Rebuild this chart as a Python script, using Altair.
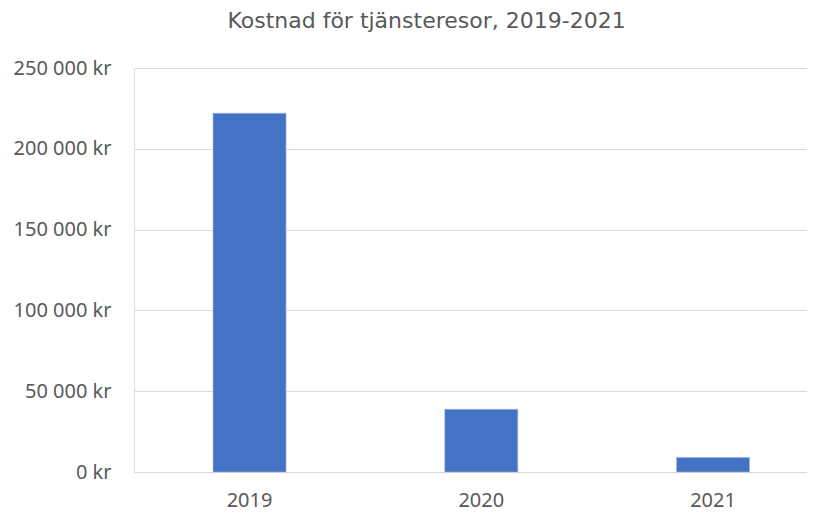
import altair as alt
import pandas as pd

years = ["2019", "2020", "2021"]
costs = [222000, 38800, 9000]

df = pd.DataFrame({"year": years, "cost": costs})

FONT = "Noto Sans"
GREY = "#595959"

chart = (
    alt.Chart(df)
    .mark_bar(color="#4472C4", stroke="#9DB3E0", strokeWidth=0.6)
    .encode(
        x=alt.X(
            "year:N",
            sort=years,
            title=None,
            scale=alt.Scale(paddingInner=0.685, paddingOuter=0.2945, align=0.579),
            axis=alt.Axis(
                labelAngle=0,
                labelFont=FONT,
                labelFontSize=20,
                labelColor=GREY,
                labelPadding=18,
                ticks=False,
                domain=False,
                grid=False,
            ),
        ),
        y=alt.Y(
            "cost:Q",
            title=None,
            scale=alt.Scale(domain=[0, 250000], nice=False),
            axis=alt.Axis(
                values=[0, 50000, 100000, 150000, 200000, 250000],
                labelExpr="replace(format(datum.value, ','), ',', ' ') + ' kr'",
                labelFont=FONT,
                labelFontSize=20,
                labelColor=GREY,
                labelPadding=23,
                ticks=False,
                domain=False,
                grid=True,
                gridColor="#D9D9D9",
                gridWidth=1,
            ),
        ),
    )
    .properties(
        width=673,
        height=404,
        title=alt.TitleParams(
            "Kostnad för tjänsteresor, 2019-2021",
            font="DejaVu Sans",
            fontSize=22,
            fontWeight="normal",
            color=GREY,
            anchor="middle",
            dx=-44,
            offset=8,
            baseline="alphabetic",
        ),
        autosize=alt.AutoSizeParams(type="none"),
        padding={"left": 126, "top": 60, "right": 0, "bottom": 40},
    )
    .configure_view(stroke=None)
    .configure(background="white")
)

chart.save("out.html", embed_options={"renderer": "svg", "actions": False})
